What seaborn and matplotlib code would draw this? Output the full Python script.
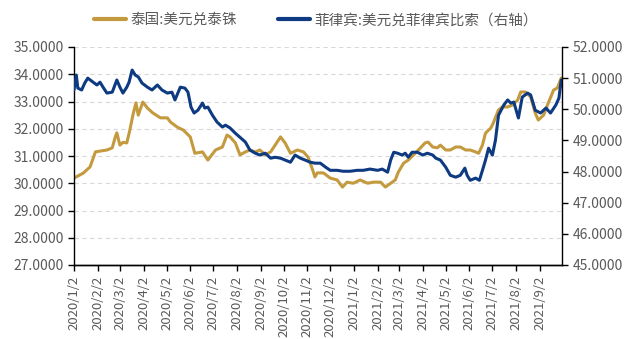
import matplotlib
matplotlib.use("Agg")
import matplotlib.pyplot as plt
from matplotlib.ticker import FormatStrFormatter, FixedLocator
import seaborn as sns
import pandas as pd

# ---- data ----
thb_dates = ["2020-01-02","2020-01-14","2020-01-23","2020-01-30","2020-02-05","2020-02-14","2020-02-21",
             "2020-02-25","2020-02-27","2020-03-02","2020-03-06","2020-03-11","2020-03-15","2020-03-19",
             "2020-03-23","2020-03-26","2020-04-01","2020-04-07","2020-04-14","2020-04-24","2020-05-03",
             "2020-05-07","2020-05-16","2020-05-24","2020-06-02","2020-06-08","2020-06-18","2020-06-25",
             "2020-07-05","2020-07-14","2020-07-20","2020-07-24","2020-07-31","2020-08-06","2020-08-13",
             "2020-08-19","2020-08-26","2020-09-01","2020-09-08","2020-09-15","2020-09-21","2020-09-28",
             "2020-10-04","2020-10-11","2020-10-20","2020-10-28","2020-11-03","2020-11-09","2020-11-12",
             "2020-11-15","2020-11-23","2020-12-02","2020-12-11","2020-12-18","2020-12-24","2021-01-01",
             "2021-01-10","2021-01-20","2021-01-27","2021-02-06","2021-02-12","2021-02-19","2021-02-25",
             "2021-03-01","2021-03-08","2021-03-14","2021-03-21","2021-03-30","2021-04-05","2021-04-09",
             "2021-04-15","2021-04-21","2021-04-25","2021-05-02","2021-05-08","2021-05-15","2021-05-21",
             "2021-05-28","2021-06-03","2021-06-10","2021-06-14","2021-06-19","2021-06-23","2021-06-30",
             "2021-07-03","2021-07-10","2021-07-15","2021-07-22","2021-07-28","2021-08-04","2021-08-08",
             "2021-08-14","2021-08-21","2021-08-27","2021-08-31","2021-09-07","2021-09-13","2021-09-20",
             "2021-09-25","2021-09-30"]
thb_values = [30.19,30.37,30.60,31.15,31.18,31.22,31.30,31.70,31.85,31.40,31.50,31.48,31.95,32.50,
              32.95,32.50,32.98,32.76,32.58,32.40,32.40,32.25,32.06,31.95,31.70,31.10,31.15,30.85,
              31.22,31.33,31.77,31.70,31.48,31.04,31.15,31.22,31.15,31.22,31.04,31.15,31.40,31.70,
              31.48,31.10,31.22,31.15,30.96,30.49,30.23,30.38,30.38,30.19,30.12,29.86,30.04,30.00,
              30.12,30.00,30.04,30.04,29.86,30.00,30.12,30.41,30.74,30.85,31.04,31.30,31.48,31.51,
              31.33,31.30,31.40,31.22,31.22,31.33,31.33,31.22,31.22,31.15,31.10,31.40,31.84,32.03,
              32.20,32.69,32.80,32.80,32.87,33.05,33.35,33.35,33.17,32.58,32.32,32.50,32.94,33.42,
              33.50,33.86]

php_dates = ["2020-01-02","2020-01-05","2020-01-07","2020-01-12","2020-01-16","2020-01-20","2020-01-27",
             "2020-02-01","2020-02-05","2020-02-09","2020-02-14","2020-02-21","2020-02-27","2020-03-02",
             "2020-03-06","2020-03-11","2020-03-14","2020-03-18","2020-03-22","2020-03-26","2020-03-31",
             "2020-04-07","2020-04-13","2020-04-20","2020-04-26","2020-05-03","2020-05-09","2020-05-13",
             "2020-05-20","2020-05-26","2020-05-30","2020-06-03","2020-06-07","2020-06-12","2020-06-18",
             "2020-06-21","2020-06-25","2020-07-01","2020-07-07","2020-07-14","2020-07-18","2020-07-24",
             "2020-07-31","2020-08-06","2020-08-13","2020-08-19","2020-08-26","2020-09-01","2020-09-08",
             "2020-09-15","2020-09-21","2020-09-28","2020-10-04","2020-10-11","2020-10-17","2020-10-24",
             "2020-10-30","2020-11-06","2020-11-12","2020-11-19","2020-11-26","2020-12-02","2020-12-11",
             "2020-12-19","2020-12-28","2021-01-06","2021-01-14","2021-01-23","2021-02-02","2021-02-08",
             "2021-02-15","2021-02-19","2021-02-23","2021-02-28","2021-03-06","2021-03-10","2021-03-14",
             "2021-03-19","2021-03-26","2021-04-02","2021-04-08","2021-04-15","2021-04-19","2021-04-25",
             "2021-05-02","2021-05-08","2021-05-15","2021-05-21","2021-05-27","2021-05-30","2021-06-03",
             "2021-06-10","2021-06-15","2021-06-19","2021-06-23","2021-06-27","2021-07-02","2021-07-06",
             "2021-07-10","2021-07-17","2021-07-22","2021-07-26","2021-07-30","2021-08-05","2021-08-10",
             "2021-08-17","2021-08-21","2021-08-27","2021-09-03","2021-09-10","2021-09-16","2021-09-23",
             "2021-09-27","2021-09-30"]
php_values = [50.62,51.10,50.68,50.62,50.84,51.00,50.87,50.78,50.87,50.71,50.52,50.55,50.94,50.71,
              50.52,50.71,50.87,51.26,51.10,51.04,50.84,50.71,50.62,50.78,50.62,50.52,50.55,50.30,
              50.71,50.68,50.55,50.07,49.88,49.97,50.20,50.04,50.07,49.81,49.59,49.43,49.49,49.40,
              49.23,49.10,48.95,48.69,48.59,48.53,48.59,48.43,48.46,48.43,48.37,48.30,48.53,48.43,
              48.37,48.30,48.27,48.27,48.14,48.04,48.04,48.01,48.01,48.04,48.04,48.08,48.04,48.08,
              47.98,48.37,48.62,48.59,48.53,48.59,48.46,48.62,48.62,48.53,48.59,48.53,48.43,48.37,
              48.14,47.88,47.82,47.88,48.11,47.88,47.72,47.79,47.72,48.04,48.37,48.75,48.53,49.01,
              49.81,50.14,50.30,50.20,50.23,49.72,50.39,50.52,50.46,49.97,49.88,50.04,49.88,50.14,
              50.36,50.94]

x_tick_labels = ["2020/1/2","2020/2/2","2020/3/2","2020/4/2","2020/5/2","2020/6/2","2020/7/2",
                 "2020/8/2","2020/9/2","2020/10/2","2020/11/2","2020/12/2","2021/1/2","2021/2/2",
                 "2021/3/2","2021/4/2","2021/5/2","2021/6/2","2021/7/2","2021/8/2","2021/9/2"]
left_ticks = [27, 28, 29, 30, 31, 32, 33, 34, 35]
right_ticks = [45, 46, 47, 48, 49, 50, 51, 52]
label_thb = "泰国:美元兑泰铢"
label_php = "菲律宾:美元兑菲律宾比索（右轴）"

# ---- style ----
sns.set_style("white")
plt.rcParams["font.family"] = ["Noto Sans CJK SC", "DejaVu Sans"]
GOLD = "#C49A3E"
BLUE = "#0E3A82"
GREY = "#595959"

df_thb = pd.DataFrame({"date": pd.to_datetime(thb_dates), "value": thb_values})
df_php = pd.DataFrame({"date": pd.to_datetime(php_dates), "value": php_values})

fig = plt.figure(figsize=(6.32, 3.39), dpi=100)
ax = fig.add_axes([74/632, 1-265/339, (562-74)/632, (265-47)/339])
ax2 = ax.twinx()

sns.lineplot(data=df_thb, x="date", y="value", ax=ax, color=GOLD, linewidth=2.2, label=label_thb, legend=False)
sns.lineplot(data=df_php, x="date", y="value", ax=ax2, color=BLUE, linewidth=2.2, label=label_php, legend=False)

ax.set_xlim(pd.Timestamp("2020-01-02"), pd.Timestamp("2021-10-01"))
ax.set_ylim(27, 35)
ax2.set_ylim(45, 52)
ax.yaxis.set_major_locator(FixedLocator(left_ticks))
ax2.yaxis.set_major_locator(FixedLocator(right_ticks))
ax.yaxis.set_major_formatter(FormatStrFormatter("%.4f"))
ax2.yaxis.set_major_formatter(FormatStrFormatter("%.4f"))

xt = pd.to_datetime([s.replace("/", "-") for s in x_tick_labels])
ax.set_xticks(xt)
ax.set_xticklabels(x_tick_labels, rotation=90)

ax.set_xlabel("")
ax.set_ylabel("")
ax2.set_ylabel("")

ax.grid(axis="y", color="#D9D9D9", linestyle=(0, (4, 3)), linewidth=0.8)
ax.set_axisbelow(True)

for a in (ax, ax2):
    a.spines["top"].set_visible(False)
    a.spines["left"].set_visible(False)
    a.spines["right"].set_visible(False)
ax.spines["left"].set_visible(True)
ax2.spines["right"].set_visible(True)
for a in (ax, ax2):
    for s in a.spines.values():
        s.set_color("black")
        s.set_linewidth(1.0)

ax.tick_params(axis="x", direction="out", length=4, width=1, color="black",
               labelcolor=GREY, labelsize=9.5, bottom=True)
ax.tick_params(axis="y", direction="out", length=4, width=1, color="black",
               labelcolor=GREY, labelsize=10, left=True)
ax2.tick_params(axis="y", direction="out", length=4, width=1, color="black",
                labelcolor=GREY, labelsize=10, right=True)

h1, l1 = ax.get_legend_handles_labels()
h2, l2 = ax2.get_legend_handles_labels()
leg = fig.legend(h1 + h2, l1 + l2, loc="upper center", bbox_to_anchor=(0.5, 1.0), ncol=2,
                 frameon=False, fontsize=10.5, handlelength=2.2, columnspacing=2.8, handletextpad=0.3)
for t in leg.get_texts():
    t.set_color(GREY)
for h in leg.get_lines():
    h.set_linewidth(3)

fig.savefig("out.png", dpi=100)
